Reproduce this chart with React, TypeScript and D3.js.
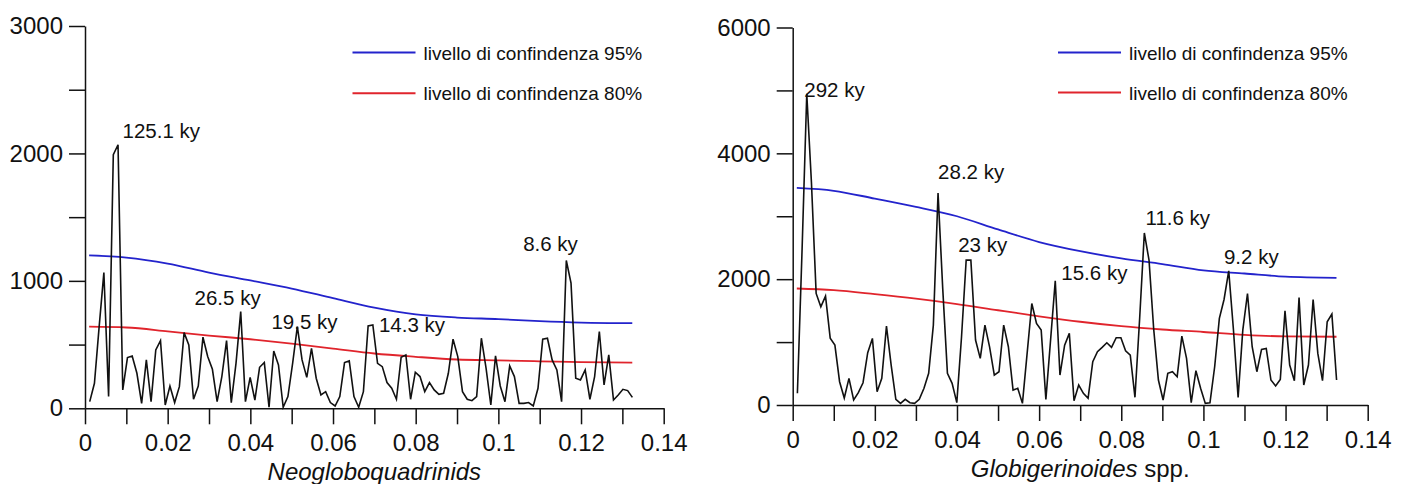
import { useEffect, useRef } from 'react';
import * as d3 from 'd3';

// periodogram frequency step (record length ~876 ky), point k sits at k * freqStep
const freqStep = 1 / 876;

// Neogloboquadrinids spectral power, k = 1..116
const neoPower = [
  52, 196, 641, 1065, 92, 1990, 2068, 144, 398, 411,
  275, 39, 380, 52, 458, 531, 26, 175, 45, 170,
  594, 497, 71, 175, 558, 406, 306, 52, 249, 531,
  45, 353, 759, 52, 243, 65, 322, 359, 8, 450,
  340, 8, 92, 353, 641, 380, 243, 471, 236, 105,
  131, 45, 18, 92, 359, 372, 92, 8, 131, 647,
  654, 353, 327, 202, 157, 71, 401, 419, 71, 283,
  249, 131, 202, 144, 110, 118, 275, 542, 406, 131,
  71, 60, 92, 550, 314, 26, 411, 175, 52, 332,
  249, 39, 39, 45, 18, 157, 542, 550, 380, 301,
  52, 1160, 982, 236, 223, 301, 71, 249, 602, 183,
  419, 65, 105, 149, 139, 86,
];

// Globigerinoides spp. spectral power, k = 1..116
const globPower = [
  186, 2470, 4948, 3530, 1773, 1560, 1730, 1063, 952, 370,
  111, 423, 79, 196, 354, 831, 1058, 212, 423, 1254,
  635, 90, 26, 90, 37, 26, 90, 265, 503, 1270,
  3370, 1850, 503, 344, 37, 1073, 2302, 2302, 1032, 741,
  1270, 921, 476, 529, 1270, 926, 238, 265, 26, 820,
  1614, 1296, 1190, 90, 1032, 1974, 476, 952, 1138, 69,
  317, 185, 106, 688, 847, 915, 989, 915, 1069, 1069,
  862, 794, 122, 1376, 2735, 2302, 1201, 397, 79, 503,
  529, 450, 1095, 741, 37, 545, 265, 26, 37, 608,
  1376, 1677, 2132, 1200, 122, 1190, 1772, 926, 529, 884,
  899, 397, 302, 407, 1497, 635, 386, 1709, 317, 635,
  1677, 820, 386, 1323, 1444, 397,
];

// confidence levels
const confFreq = [0.001, 0.01, 0.02, 0.03, 0.04, 0.05, 0.06, 0.07, 0.08, 0.09, 0.1, 0.11, 0.12, 0.1324];
const neoConf95 = [1200, 1183, 1136, 1065, 1003, 940, 864, 790, 737, 712, 700, 684, 673, 668];
const neoConf80 = [641, 634, 604, 571, 542, 507, 469, 430, 404, 383, 376, 369, 363, 359];
const globConf95 = [3450, 3405, 3280, 3150, 3000, 2790, 2590, 2445, 2330, 2240, 2140, 2090, 2040, 2021];
const globConf80 = [1852, 1826, 1762, 1690, 1605, 1506, 1410, 1323, 1253, 1200, 1160, 1115, 1090, 1085];

const xTicks = [0, 0.01, 0.02, 0.03, 0.04, 0.05, 0.06, 0.07, 0.08, 0.09, 0.1, 0.11, 0.12, 0.13, 0.14];
const xLabels = ['0', '', '0.02', '', '0.04', '', '0.06', '', '0.08', '', '0.1', '', '0.12', '', '0.14'];

const neoYTicks = [0, 500, 1000, 1500, 2000, 2500, 3000];
const neoYLabels = ['0', '', '1000', '', '2000', '', '3000'];
const globYTicks = [0, 1000, 2000, 3000, 4000, 5000, 6000];
const globYLabels = ['0', '', '2000', '', '4000', '', '6000'];

// peak labels: text and anchor (frequency, power) of the text start
const neoPeakText = ['125.1 ky', '26.5 ky', '19.5 ky', '14.3 ky', '8.6 ky'];
const neoPeakAt = [[0.00908, 2119], [0.0265, 809], [0.0451, 621], [0.0711, 599], [0.106, 1236]];
const globPeakText = ['292 ky', '28.2 ky', '23 ky', '15.6 ky', '11.6 ky', '9.2 ky'];
const globPeakAt = [[0.00282, 4894], [0.0354, 3598], [0.0403, 2433], [0.0654, 1984], [0.0859, 2857], [0.105, 2238]];

const legendText = ['livello di confindenza 95%', 'livello di confindenza 80%'];

const FONT = 'Liberation Sans, Arial, Helvetica, sans-serif';
const BLUE = '#2323cc';
const RED = '#e0242c';

function drawPanel(svg, p) {
  const x = d3.scaleLinear().domain([0, 0.14]).range(p.xRange);
  const y = d3.scaleLinear().domain([0, p.yMax]).range(p.yRange);
  const g = svg.append('g');

  // axes
  const xAxis = g.append('g')
    .attr('transform', `translate(0,${p.yRange[0]})`)
    .call(d3.axisBottom(x).tickValues(xTicks).tickSize(16).tickSizeOuter(0).tickPadding(10)
      .tickFormat((d, i) => xLabels[i]));
  const yAxis = g.append('g')
    .attr('transform', `translate(${p.xRange[0]},0)`)
    .call(d3.axisLeft(y).tickValues(p.yTicks).tickSize(16).tickSizeOuter(0).tickPadding(6)
      .tickFormat((d, i) => p.yLabels[i]));
  [xAxis, yAxis].forEach((a) => {
    a.attr('font-family', FONT).attr('font-size', 24);
    a.selectAll('path, line').attr('stroke', '#111').attr('stroke-width', 1.5);
    a.selectAll('text').attr('fill', '#111');
  });

  // axis title
  const title = g.append('text')
    .attr('x', (p.xRange[0] + p.xRange[1]) / 2)
    .attr('y', p.yRange[0] + 72)
    .attr('text-anchor', 'middle')
    .attr('font-family', FONT)
    .attr('font-size', 24)
    .attr('fill', '#111');
  title.append('tspan').attr('font-style', 'italic').text(p.title);
  if (p.titleTail) title.append('tspan').text(p.titleTail);

  // confidence curves
  const conf = d3.line().x((d) => x(d[0])).y((d) => y(d[1])).curve(d3.curveMonotoneX);
  g.append('path')
    .attr('d', conf(confFreq.map((f, i) => [f, p.conf95[i]])))
    .attr('fill', 'none').attr('stroke', BLUE).attr('stroke-width', 1.8);
  g.append('path')
    .attr('d', conf(confFreq.map((f, i) => [f, p.conf80[i]])))
    .attr('fill', 'none').attr('stroke', RED).attr('stroke-width', 1.8);

  // spectrum
  const spec = d3.line().x((d) => x(d[0])).y((d) => y(d[1]));
  g.append('path')
    .attr('d', spec(p.power.map((v, i) => [(i + 1) * freqStep, v])))
    .attr('fill', 'none').attr('stroke', '#111').attr('stroke-width', 1.6)
    .attr('stroke-linejoin', 'miter');

  // peak labels
  g.selectAll('text.peak')
    .data(p.peakText)
    .enter()
    .append('text')
    .attr('class', 'peak')
    .attr('x', (d, i) => x(p.peakAt[i][0]))
    .attr('y', (d, i) => y(p.peakAt[i][1]))
    .attr('font-family', FONT)
    .attr('font-size', 20.5)
    .attr('fill', '#111')
    .text((d) => d);

  // legend
  [BLUE, RED].forEach((c, i) => {
    const ly = p.legendY[i];
    g.append('line')
      .attr('x1', p.legendX).attr('x2', p.legendX + 63)
      .attr('y1', ly).attr('y2', ly)
      .attr('stroke', c).attr('stroke-width', 2);
    g.append('text')
      .attr('x', p.legendX + 71).attr('y', ly + 7)
      .attr('font-family', FONT).attr('font-size', 19).attr('fill', '#111')
      .text(legendText[i]);
  });
}

const App = () => {
  const svgRef = useRef(null);

  useEffect(() => {
    const svg = d3.select(svgRef.current);
    svg.selectAll('*').remove();

    drawPanel(svg, {
      xRange: [85, 663.7], yRange: [408.3, 26], yMax: 3000,
      yTicks: neoYTicks, yLabels: neoYLabels,
      power: neoPower, conf95: neoConf95, conf80: neoConf80,
      peakText: neoPeakText, peakAt: neoPeakAt,
      title: 'Neogloboquadrinids', titleTail: null,
      legendX: 352.5, legendY: [52.5, 93.3],
    });
    drawPanel(svg, {
      xRange: [792.7, 1367.7], yRange: [405, 27.5], yMax: 6000,
      yTicks: globYTicks, yLabels: globYLabels,
      power: globPower, conf95: globConf95, conf80: globConf80,
      peakText: globPeakText, peakAt: globPeakAt,
      title: 'Globigerinoides', titleTail: ' spp.',
      legendX: 1058, legendY: [52.5, 92.5],
    });

    return () => d3.select(svgRef.current).selectAll('*').remove();
  }, []);

  return (
    <svg
      ref={svgRef}
      width={1405}
      height={484}
      style={{ position: 'absolute', left: 0, top: 0, background: '#fff' }}
    />
  );
};

export default App;
